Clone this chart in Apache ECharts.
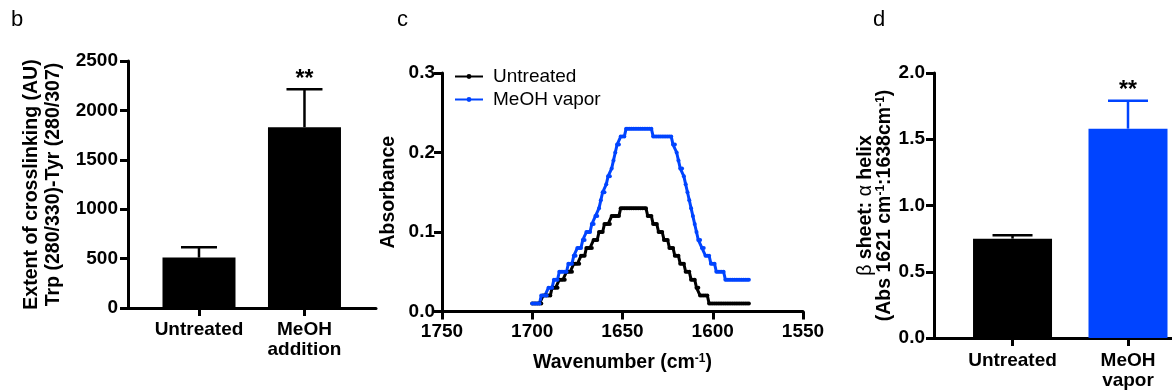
<!DOCTYPE html>
<html lang="en">

<head>
  <meta charset="UTF-8">
  <meta name="viewport" content="width=device-width, initial-scale=1.0">
  <title>Crosslinking / FTIR</title>
  <script src="https://cdn.jsdelivr.net/npm/echarts@6/dist/echarts.min.js"></script>
  <style>
    html, body { margin: 0; padding: 0; background: #fff; }
    #main { width: 1172px; height: 391px; }
  </style>
</head>

<body>
  <div id="main"></div>
  <script>
    // panel b: crosslinking
    const catsB = ['Untreated', 'MeOH\naddition']
    const meanB = [510, 1830]
    const errB = [105, 385]
    const sigB = ['', '**']
    const ticksB = [0, 500, 1000, 1500, 2000, 2500]

    // panel c: FTIR spectra, 1700 -> 1580 cm-1, one point per cm-1
    const wavenumbers = []
    for (let w = 1700; w >= 1580; w--) wavenumbers.push(w)
    const untreated = [
      .01, .01, .01, .01, .01, .01,
      .02, .02, .02, .02, .02,
      .03, .03, .03, .03,
      .04, .04, .04, .04,
      .05, .05, .05, .05,
      .06, .06, .06, .06,
      .07, .07, .07,
      .08, .08, .08, .08,
      .09, .09, .09,
      .10, .10, .10,
      .11, .11, .11, .11,
      .12, .12, .12, .12, .12,
      .13, .13, .13, .13, .13, .13, .13, .13, .13, .13, .13, .13, .13, .13, .13,
      .12, .12, .12,
      .11, .11, .11,
      .10, .10, .10,
      .09, .09, .09,
      .08, .08, .08,
      .07, .07, .07,
      .06, .06, .06,
      .05, .05, .05,
      .04, .04, .04,
      .03, .03,
      .02, .02, .02, .02, .02,
      .01, .01, .01, .01, .01, .01, .01, .01, .01, .01, .01, .01,
      .01, .01, .01, .01, .01, .01, .01, .01, .01, .01, .01
    ]
    const meohVapor = [
      .01, .01, .01, .01, .01,
      .02, .02, .02, .02,
      .03, .03, .03,
      .04, .04, .04,
      .05, .05, .05, .05, .05,
      .06, .06, .06,
      .07, .07,
      .08, .08, .08,
      .09, .09,
      .10, .10, .10,
      .11, .11,
      .12, .12,
      .13,
      .14,
      .15, .15,
      .16,
      .17, .17,
      .18,
      .19,
      .20,
      .21, .21,
      .22, .22, .22,
      .23, .23, .23, .23, .23, .23, .23, .23, .23, .23, .23, .23, .23, .23, .23,
      .22, .22, .22, .22, .22, .22, .22, .22, .22, .22, .22,
      .21, .21,
      .20,
      .19,
      .18, .18,
      .17,
      .16,
      .15,
      .14,
      .13,
      .12,
      .11,
      .10,
      .09, .09,
      .08, .08,
      .07, .07, .07,
      .06, .06, .06,
      .05, .05, .05, .05, .05,
      .04, .04, .04, .04, .04, .04, .04, .04, .04, .04, .04, .04, .04, .04
    ]
    const ticksCx = [1750, 1700, 1650, 1600, 1550]
    const ticksCy = [0.0, 0.1, 0.2, 0.3]

    // panel d: beta sheet / alpha helix ratio
    const catsD = ['Untreated', 'MeOH\nvapor']
    const meanD = [0.75, 1.58]
    const errD = [0.025, 0.21]
    const sigD = ['', '**']
    const ticksD = [0.0, 0.5, 1.0, 1.5, 2.0]

    const FONT = "'Liberation Sans', Arial, sans-serif"
    const BLUE = '#0044ff'
    const barColorsD = ['#000000', BLUE]

    const bold = { fontFamily: FONT, fontWeight: 'bold', fontSize: 19, color: '#000' }
    const axisLine = { show: true, onZero: false, lineStyle: { color: '#000', width: 3 } }
    const axisTick = { show: true, inside: false, length: 8, lineStyle: { color: '#000', width: 3 } }

    function errorBars(sig, capHalf) {
      return function (params, api) {
        const x = api.value(0), y = api.value(1), e = api.value(2)
        const base = api.coord([x, y])
        const top = api.coord([x, y + e])
        const color = api.visual('color')
        const st = { stroke: color, lineWidth: 2.5 }
        return {
          type: 'group',
          children: [
            { type: 'line', shape: { x1: top[0], y1: base[1], x2: top[0], y2: top[1] }, style: st },
            { type: 'line', shape: { x1: top[0] - capHalf, y1: top[1], x2: top[0] + capHalf, y2: top[1] }, style: st },
            {
              type: 'text', x: top[0], y: top[1] - 10,
              style: { text: sig[params.dataIndex], font: 'bold 23px ' + FONT, fill: '#000', align: 'center', verticalAlign: 'middle' }
            }
          ]
        }
      }
    }

    let myChart = echarts.init(document.querySelector('#main'))

    let option = {
      animation: false,
      backgroundColor: '#fff',
      graphic: [
        { type: 'text', left: 11, top: 9, style: { text: 'b', font: '22px ' + FONT, fill: '#000' } },
        { type: 'text', left: 397, top: 9, style: { text: 'c', font: '22px ' + FONT, fill: '#000' } },
        { type: 'text', left: 873, top: 9, style: { text: 'd', font: '22px ' + FONT, fill: '#000' } }
      ],
      legend: {
        data: ['Untreated', 'MeOH vapor'],
        orient: 'vertical',
        left: 449,
        top: 62,
        itemWidth: 28,
        itemHeight: 6,
        itemGap: 4,
        textStyle: { fontFamily: FONT, fontSize: 19, color: '#000', padding: [0, 0, 0, 5] }
      },
      grid: [
        { left: 128, top: 61, width: 248, height: 247 },
        { left: 442, top: 73, width: 361, height: 238.5 },
        { left: 934, top: 73, width: 238, height: 266 }
      ],
      xAxis: [
        {
          gridIndex: 0, type: 'value', min: 0.327, max: 2.678,
          axisLine, splitLine: { show: false },
          axisTick: Object.assign({ customValues: [1, 2] }, axisTick),
          axisLabel: Object.assign({ customValues: [1, 2], margin: 12, lineHeight: 20, formatter: v => catsB[Math.round(v) - 1] }, bold)
        },
        {
          gridIndex: 1, type: 'value', inverse: true, min: 1550, max: 1750, interval: 50,
          axisLine, axisTick, splitLine: { show: false },
          axisLabel: Object.assign({ margin: 11, customValues: ticksCx, formatter: v => String(v) }, bold),
          name: 'Wavenumber (cm{sup|-1})', nameLocation: 'middle', nameGap: 41,
          nameTextStyle: { fontFamily: FONT, fontWeight: 'bold', color: '#000', fontSize: 19.5, rich: { sup: { fontFamily: FONT, fontWeight: 'bold', fontSize: 12, verticalAlign: 'top', padding: [0, 0, 8, 0] } } }
        },
        {
          gridIndex: 2, type: 'value', min: 0.32, max: 2.381,
          axisLine, splitLine: { show: false },
          axisTick: Object.assign({ customValues: [1, 2] }, axisTick),
          axisLabel: Object.assign({ customValues: [1, 2], margin: 13, lineHeight: 20, formatter: v => catsD[Math.round(v) - 1] }, bold)
        }
      ],
      yAxis: [
        {
          gridIndex: 0, type: 'value', min: 0, max: 2500, interval: 500,
          axisLine, axisTick, splitLine: { show: false },
          axisLabel: Object.assign({ margin: 10, customValues: ticksB, formatter: v => String(v) }, bold),
          name: 'Extent of crosslinking (AU)\nTrp (280/330)-Tyr (280/307)',
          nameLocation: 'middle', nameGap: 64,
          nameTextStyle: Object.assign({ lineHeight: 21.5 }, bold, { fontSize: 19.5 })
        },
        {
          gridIndex: 1, type: 'value', min: 0, max: 0.3, interval: 0.1,
          axisLine, axisTick, splitLine: { show: false },
          axisLabel: Object.assign({ margin: 7, customValues: ticksCy, formatter: v => v.toFixed(1) }, bold),
          name: 'Absorbance', nameLocation: 'middle', nameGap: 43,
          nameTextStyle: Object.assign({}, bold, { fontSize: 19.5 })
        },
        {
          gridIndex: 2, type: 'value', min: 0, max: 2, interval: 0.5,
          axisLine, axisTick, splitLine: { show: false },
          axisLabel: Object.assign({ margin: 9, customValues: ticksD, formatter: v => v.toFixed(1) }, bold),
          name: '{g|β} sheet: {g|α} helix\n(Abs 1621 cm{sup|-1}:1638cm{sup|-1})',
          nameLocation: 'middle', nameGap: 34,
          nameTextStyle: Object.assign({ lineHeight: 19.5 }, bold, {
            fontSize: 19.5,
            rich: {
              g: { fontFamily: FONT, fontWeight: 'normal', fontSize: 19.5, color: '#000' },
              sup: { fontFamily: FONT, fontWeight: 'bold', fontSize: 12, color: '#000', verticalAlign: 'top', padding: [0, 0, 8, 0] }
            }
          })
        }
      ],
      series: [
        {
          type: 'bar', xAxisIndex: 0, yAxisIndex: 0, barWidth: 73,
          itemStyle: { color: '#000' },
          data: meanB.map((v, i) => [i + 1, v])
        },
        {
          type: 'custom', xAxisIndex: 0, yAxisIndex: 0, z: 5,
          itemStyle: { color: '#000' },
          renderItem: errorBars(sigB, 18),
          data: meanB.map((v, i) => [i + 1, v, errB[i]])
        },
        {
          name: 'Untreated', type: 'line', xAxisIndex: 1, yAxisIndex: 1,
          symbol: 'circle', symbolSize: 4, showSymbol: true,
          itemStyle: { color: '#000' },
          lineStyle: { color: '#000', width: 3 },
          data: wavenumbers.map((w, i) => [w, untreated[i]])
        },
        {
          name: 'MeOH vapor', type: 'line', xAxisIndex: 1, yAxisIndex: 1,
          symbol: 'circle', symbolSize: 4, showSymbol: true,
          itemStyle: { color: BLUE },
          lineStyle: { color: BLUE, width: 3 },
          data: wavenumbers.map((w, i) => [w, meohVapor[i]])
        },
        {
          type: 'bar', xAxisIndex: 2, yAxisIndex: 2, barWidth: 79,
          data: meanD.map((v, i) => ({ value: [i + 1, v], itemStyle: { color: barColorsD[i] } }))
        },
        {
          type: 'custom', xAxisIndex: 2, yAxisIndex: 2, z: 5,
          renderItem: errorBars(sigD, 20),
          data: meanD.map((v, i) => ({ value: [i + 1, v, errD[i]], itemStyle: { color: barColorsD[i] } }))
        }
      ]
    }

    myChart.setOption(option)
  </script>
</body>

</html>
